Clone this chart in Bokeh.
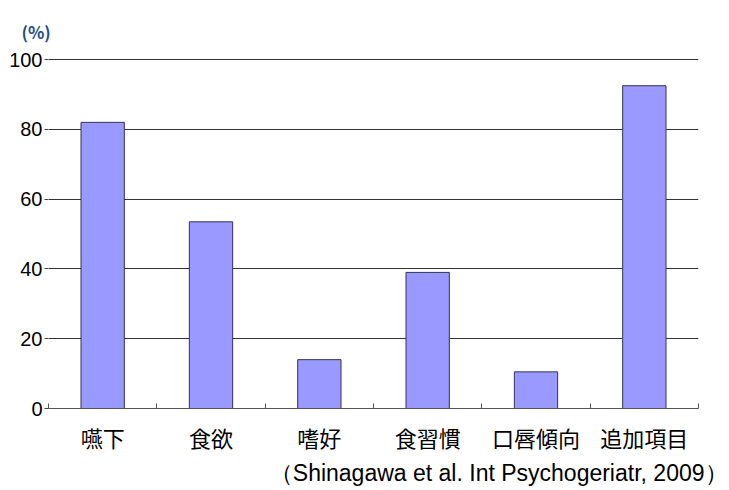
from bokeh.plotting import figure
from bokeh.models import FixedTicker, Range1d, ColumnDataSource, Title
from bokeh.embed import file_html
from bokeh.resources import INLINE

categories = ["嚥下", "食欲", "嗜好", "食習慣", "口唇傾向", "追加項目"]
values = [82, 53.5, 14, 39, 10.5, 92.5]
y_ticks = [0, 20, 40, 60, 80, 100]

n = len(categories)
centers = [i + 0.5 for i in range(n)]
source = ColumnDataSource(dict(x=centers, top=values, name=categories))

p = figure(width=729, height=490, output_backend="svg", toolbar_location=None,
           x_range=Range1d(0, n), y_range=Range1d(0, 100.3),
           min_border_left=48, min_border_right=31, min_border_top=58, min_border_bottom=82)

p.vbar(x="x", top="top", width=0.4, source=source,
       fill_color="#9999FF", line_color="#333355", line_width=1)

p.outline_line_color = None
p.background_fill_color = "white"
p.border_fill_color = "white"

# y axis
p.yaxis.ticker = FixedTicker(ticks=y_ticks)
p.yaxis.axis_line_color = None
p.yaxis.major_tick_out = 4
p.yaxis.major_tick_in = 0
p.yaxis.minor_tick_line_color = None
p.yaxis.major_tick_line_color = "#444444"
p.yaxis.major_label_text_font = "Liberation Sans"
p.yaxis.major_label_text_font_size = "20px"
p.yaxis.major_label_text_color = "black"
p.yaxis.major_label_standoff = 2
p.ygrid.grid_line_color = "#333333"
p.ygrid.grid_line_width = 1
p.xgrid.grid_line_color = None

# x axis
p.xaxis.ticker = FixedTicker(ticks=centers, minor_ticks=list(range(n + 1)))
p.xaxis.major_label_overrides = {c: name for c, name in zip(centers, categories)}
p.xaxis.major_tick_in = 0
p.xaxis.major_tick_out = 0
p.xaxis.minor_tick_in = 5
p.xaxis.minor_tick_out = 0
p.xaxis.minor_tick_line_color = "#555555"
p.xaxis.axis_line_color = "#555555"
p.xaxis.major_label_text_font = "Noto Sans CJK JP"
p.xaxis.major_label_text_font_size = "22px"
p.xaxis.major_label_text_color = "black"
p.xaxis.major_label_standoff = 12

p.add_layout(Title(text="(%)", align="left", offset=-27, standoff=29,
                   text_font="Noto Sans CJK JP", text_font_size="17px",
                   text_font_style="bold", text_color="#1f4e8c"), "above")
p.add_layout(Title(text="（Shinagawa et al. Int Psychogeriatr, 2009）", align="right",
                   offset=-29, standoff=4,
                   text_font="Liberation Sans", text_font_size="23px",
                   text_font_style="normal", text_color="black"), "below")

open("out.html", "w").write(file_html(p, INLINE))
